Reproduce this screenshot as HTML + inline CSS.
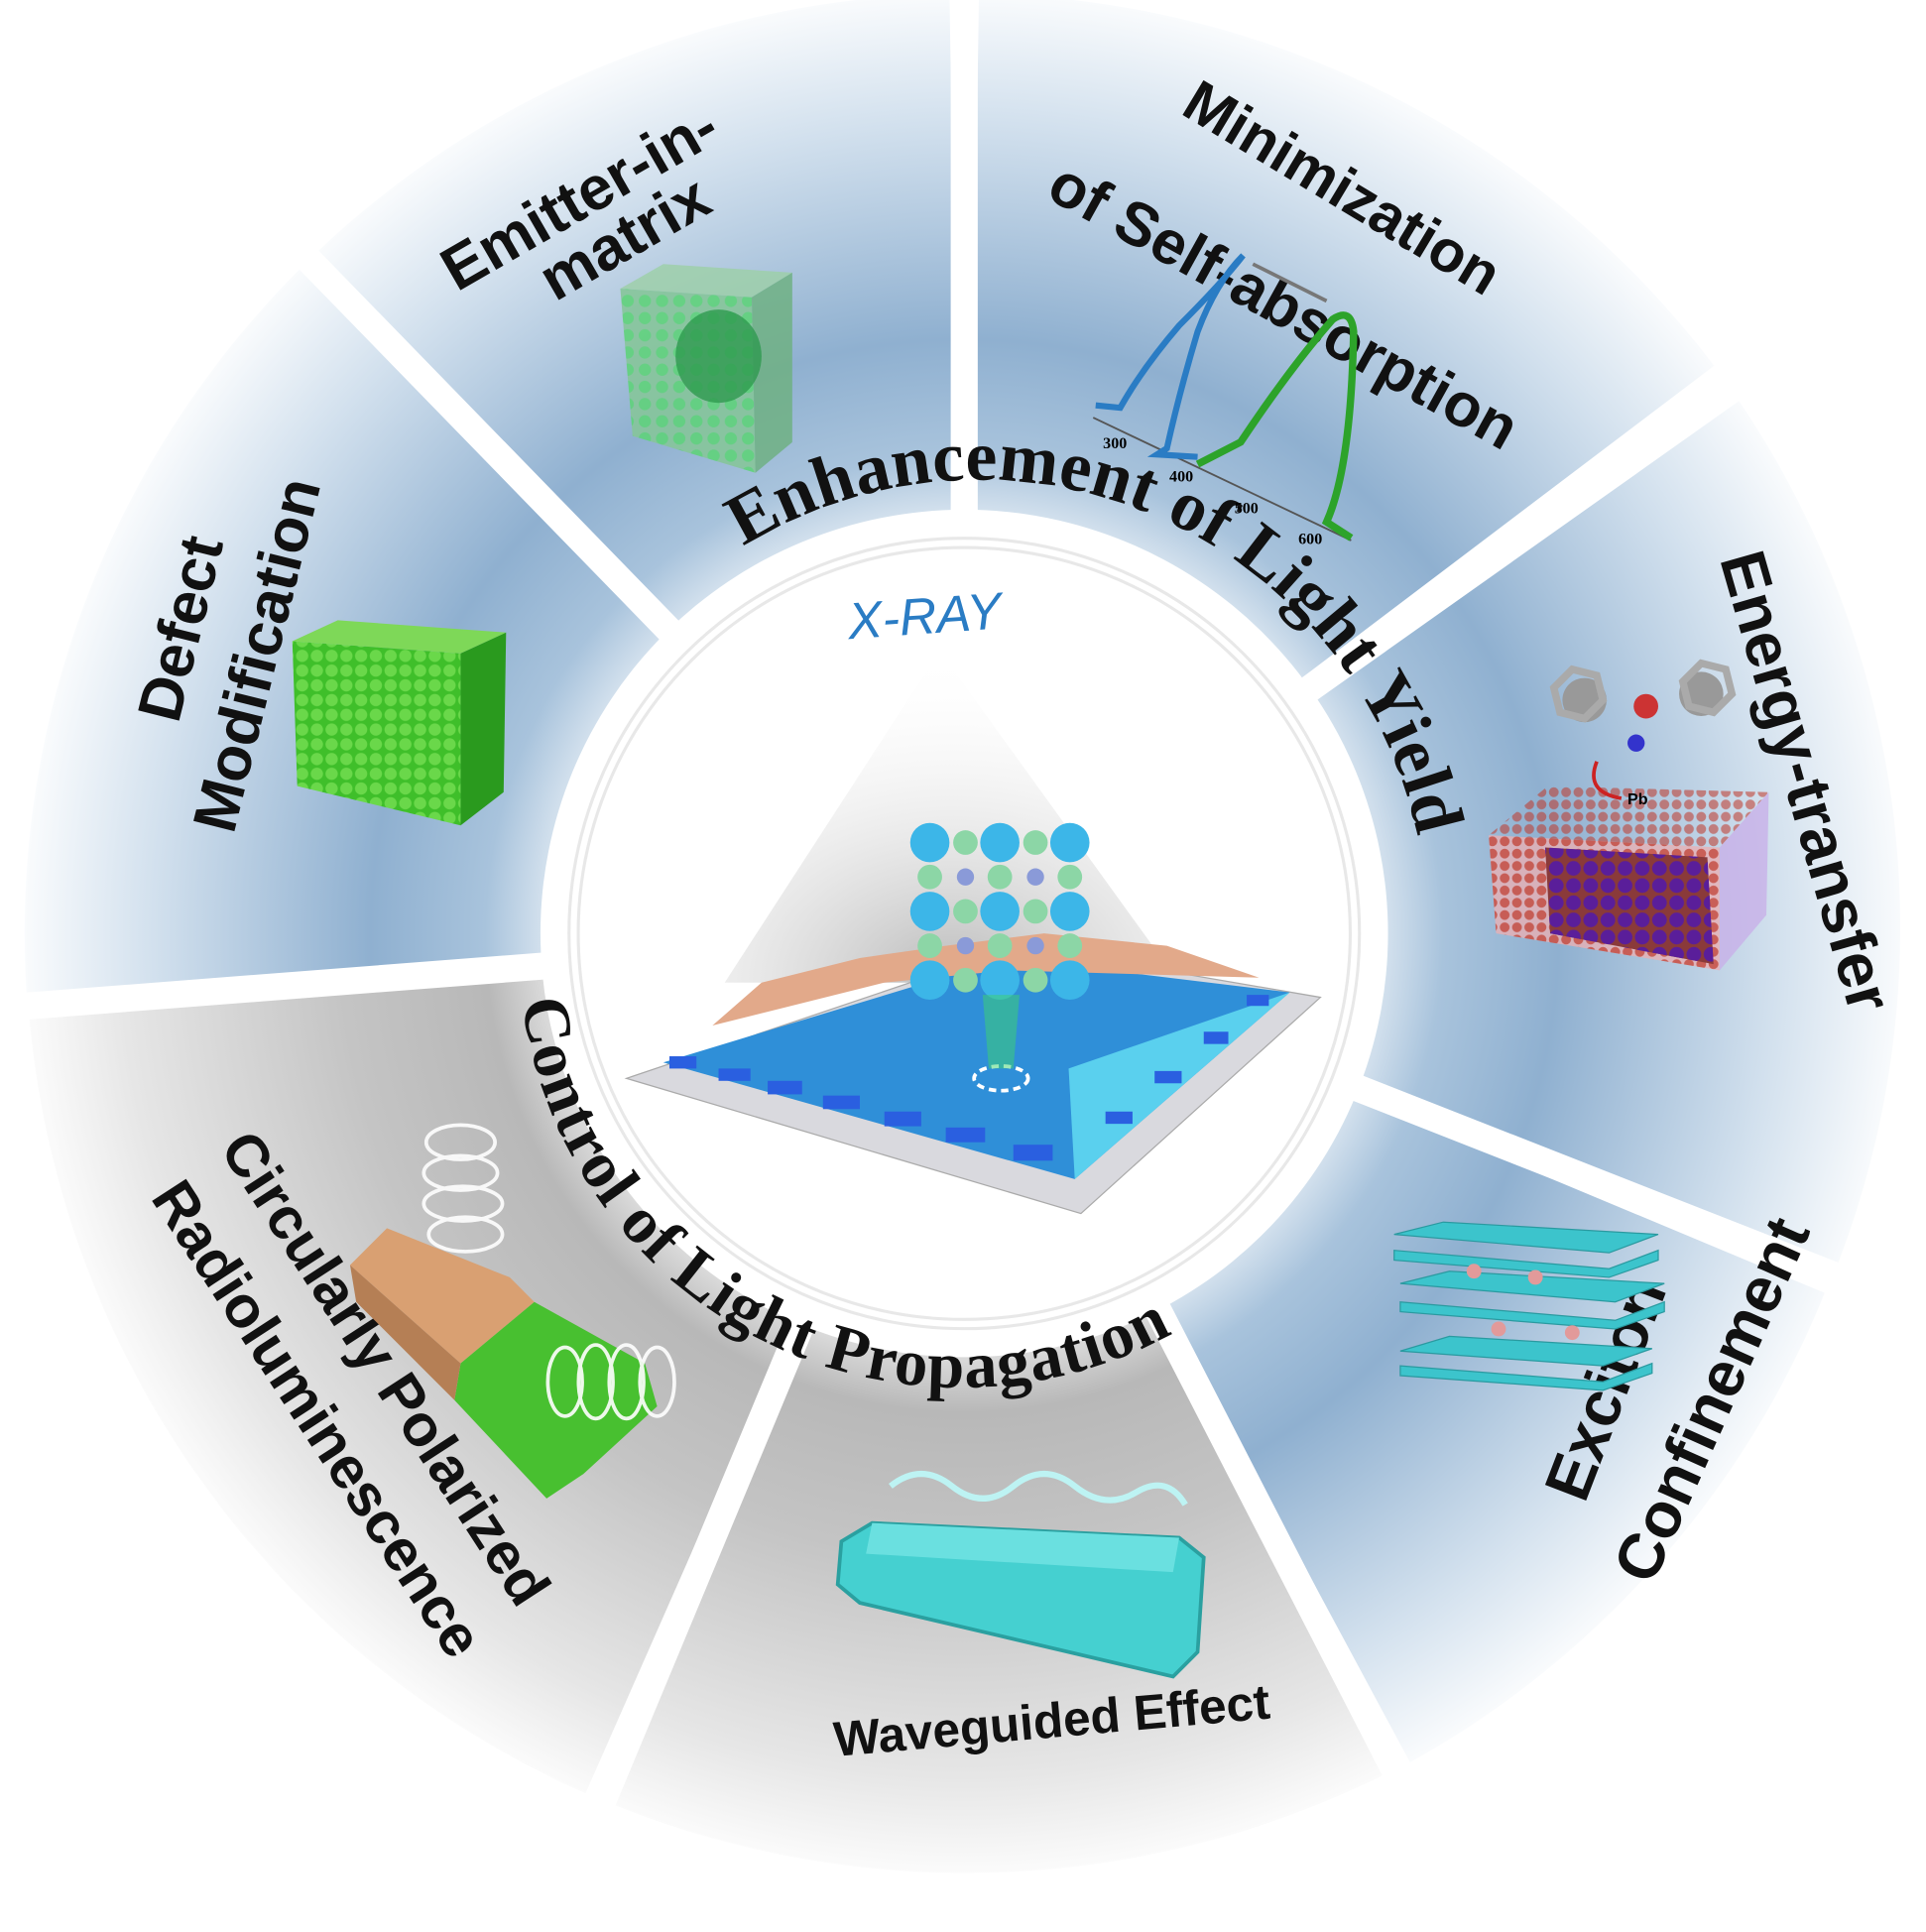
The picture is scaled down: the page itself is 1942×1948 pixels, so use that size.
<!DOCTYPE html>
<html><head><meta charset="utf-8"><style>
html,body{margin:0;padding:0;background:#fff}
svg{display:block}
.lab{font-family:"Liberation Sans",sans-serif;font-weight:bold;fill:#111}
.ser{font-family:"Liberation Serif",serif;font-weight:bold;fill:#111}
</style></head><body>
<svg width="1942" height="1948" viewBox="0 0 1568 1573" preserveAspectRatio="none" xmlns="http://www.w3.org/2000/svg">
<defs>
<radialGradient id="gb" cx="785" cy="760" r="780" gradientUnits="userSpaceOnUse">
<stop offset="0.38" stop-color="#ffffff"/><stop offset="0.5" stop-color="#a8c3dc"/><stop offset="0.62" stop-color="#8fb0d0"/><stop offset="0.85" stop-color="#d3e1ee"/><stop offset="1" stop-color="#ffffff"/></radialGradient>
<radialGradient id="gg" cx="785" cy="760" r="780" gradientUnits="userSpaceOnUse">
<stop offset="0.38" stop-color="#ffffff"/><stop offset="0.5" stop-color="#b8b8b8"/><stop offset="0.65" stop-color="#c4c4c4"/><stop offset="0.88" stop-color="#e6e6e6"/><stop offset="1" stop-color="#ffffff"/></radialGradient>
<radialGradient id="cone" cx="0.5" cy="1" r="1"><stop offset="0" stop-color="#9a9a9a"/><stop offset="1" stop-color="#ffffff" stop-opacity="0"/></radialGradient>
<path id="arcTop" d="M 605 445 A 365 365 0 0 1 1160 720"/>
<path id="arcBot" d="M 425 815 A 360 360 0 0 0 995 1060"/>
<pattern id="dots" width="10" height="10" patternUnits="userSpaceOnUse"><circle cx="5" cy="5" r="4" fill="#c0392b" opacity="0.7"/></pattern>
<pattern id="pdots" width="14" height="14" patternUnits="userSpaceOnUse"><circle cx="7" cy="7" r="6" fill="#5a1e9a"/></pattern>
<pattern id="gdots" width="12" height="12" patternUnits="userSpaceOnUse"><rect width="12" height="12" fill="#3fbf2a"/><circle cx="6" cy="6" r="5" fill="#6ad84a"/></pattern>
<pattern id="edots" width="14" height="14" patternUnits="userSpaceOnUse"><rect width="14" height="14" fill="#86c59a"/><circle cx="7" cy="7" r="5" fill="#5fd27a"/></pattern>
</defs>
<rect width="1568" height="1573" fill="#fff"/>
<path fill="url(#gb)" d="M785 760 L23.0 826.5 A765 765 0 0 1 244.1 219.1 Z"/>
<path fill="url(#gb)" d="M785 760 L255.7 207.5 A765 765 0 0 1 773.0 -5.0 Z"/>
<path fill="url(#gb)" d="M785 760 L797.0 -5.0 A765 765 0 0 1 1395.5 297.8 Z"/>
<path fill="url(#gb)" d="M785 760 L1412.3 321.4 A765 765 0 0 1 1495.1 1031.9 Z"/>
<path fill="url(#gb)" d="M785 760 L1485.5 1052.7 A765 765 0 0 1 1148.0 1434.9 Z"/>
<path fill="url(#gg)" d="M785 760 L1127.3 1444.6 A765 765 0 0 1 498.6 1468.9 Z"/>
<path fill="url(#gg)" d="M785 760 L476.7 1460.1 A765 765 0 0 1 22.3 807.9 Z"/>
<g stroke="#fff" stroke-width="22" stroke-linecap="round">
<line x1="785" y1="760" x2="10" y2="820"/>
<line x1="785" y1="760" x2="245" y2="205"/>
<line x1="785" y1="760" x2="785" y2="0"/>
<line x1="785" y1="760" x2="1420" y2="310"/>
<line x1="785" y1="760" x2="1510" y2="1045"/>
<line x1="785" y1="760" x2="1140" y2="1450"/>
<line x1="785" y1="760" x2="485" y2="1480"/>
</g>
<circle cx="785" cy="760" r="345" fill="#fff"/>
<circle cx="785" cy="760" r="318" fill="none" stroke="#d8d8d8" stroke-width="10" opacity="0.6"/>
<circle cx="785" cy="760" r="318" fill="none" stroke="#fff" stroke-width="5"/>
<text class="ser" font-size="58"><textPath href="#arcTop" textLength="700" lengthAdjust="spacing">Enhancement of Light Yield</textPath></text>
<text class="ser" font-size="54"><textPath href="#arcBot" textLength="700" lengthAdjust="spacing">Control of Light Propagation</textPath></text>
<text x="690" y="515" font-family="Liberation Sans,sans-serif" font-size="42" fill="#2a7cc4" font-style="italic" transform="rotate(-4 765 500)">X-RAY</text>
<polygon points="765,530 590,800 960,800" fill="url(#cone)" opacity="0.7"/>
<polygon points="510,878 830,770 1075,812 880,988" fill="#d9d9de" stroke="#aaa"/>
<polygon points="540,865 820,780 1050,808 875,960" fill="#2f8fd8"/>
<polygon points="580,835 620,800 700,780 770,770 850,760 950,770 1025,796 820,790 720,800" fill="#e2a98a"/>
<polygon points="870,870 1050,808 875,960" fill="#5ad0ee"/>
<ellipse cx="815" cy="878" rx="22" ry="10" fill="none" stroke="#fff" stroke-dasharray="6 4" stroke-width="3"/>
<g fill="#2a5fe0">
<rect x="545" y="860" width="22" height="10"/><rect x="585" y="870" width="26" height="10"/><rect x="625" y="880" width="28" height="11"/><rect x="670" y="892" width="30" height="11"/><rect x="720" y="905" width="30" height="12"/><rect x="770" y="918" width="32" height="12"/><rect x="825" y="932" width="32" height="13"/>
<rect x="900" y="905" width="22" height="10"/><rect x="940" y="872" width="22" height="10"/><rect x="980" y="840" width="20" height="10"/><rect x="1015" y="810" width="18" height="9"/>
</g>
<g>
<g fill="#3cb6e8"><circle cx="757" cy="686" r="16"/><circle cx="814" cy="686" r="16"/><circle cx="871" cy="686" r="16"/>
<circle cx="757" cy="742" r="16"/><circle cx="814" cy="742" r="16"/><circle cx="871" cy="742" r="16"/>
<circle cx="757" cy="798" r="16"/><circle cx="814" cy="798" r="16"/><circle cx="871" cy="798" r="16"/></g>
<g fill="#8cd6a6"><circle cx="786" cy="686" r="10"/><circle cx="843" cy="686" r="10"/><circle cx="786" cy="742" r="10"/><circle cx="843" cy="742" r="10"/><circle cx="786" cy="798" r="10"/><circle cx="843" cy="798" r="10"/><circle cx="757" cy="714" r="10"/><circle cx="814" cy="714" r="10"/><circle cx="871" cy="714" r="10"/><circle cx="757" cy="770" r="10"/><circle cx="814" cy="770" r="10"/><circle cx="871" cy="770" r="10"/></g>
<g fill="#8a9ad8"><circle cx="786" cy="714" r="7"/><circle cx="843" cy="714" r="7"/><circle cx="786" cy="770" r="7"/><circle cx="843" cy="770" r="7"/></g>
</g>
<polygon points="800,810 830,810 825,870 805,870" fill="#3ed36e" opacity="0.5"/>

<g class="lab">
<text font-size="50" transform="translate(372,238) rotate(-30)">Emitter-in-</text>
<text font-size="50" transform="translate(452,246) rotate(-30)">matrix</text>
<text font-size="48" transform="translate(960,92) rotate(31)">Minimization</text>
<text font-size="50" transform="translate(850,160) rotate(29)">of  Self-absorption</text>
<text font-size="52" transform="translate(1400,455) rotate(74)">Energy-transfer</text>
<text font-size="52" transform="translate(1290,1225) rotate(-69)">Exciton</text>
<text font-size="52" transform="translate(1345,1292) rotate(-66)">Confinement</text>
<text font-size="40" transform="translate(680,1430) rotate(-5)">Waveguided Effect</text>
<text font-size="48" transform="translate(178,935) rotate(57)">Circularly Polarized</text>
<text font-size="48" transform="translate(122,975) rotate(57)">Radioluminescence</text>
<text font-size="50" transform="translate(145,590) rotate(-76)">Defect</text>
<text font-size="50" transform="translate(190,680) rotate(-76)">Modification</text>
</g>

<polygon points="238,522 275,505 412,515 375,532" fill="#7ed858"/>
<polygon points="238,522 375,532 375,672 242,640" fill="url(#gdots)"/>
<polygon points="375,532 412,515 410,645 375,672" fill="#2a9a1e"/>
<polygon points="505,235 540,215 645,222 612,242" fill="#9ccfa6" opacity="0.8"/>
<polygon points="505,235 612,242 615,385 515,355" fill="url(#edots)" opacity="0.9"/>
<polygon points="612,242 645,222 645,360 615,385" fill="#6fb082" opacity="0.85"/>
<ellipse cx="585" cy="290" rx="35" ry="38" fill="#2e9a4f" opacity="0.8"/>
<line x1="890" y1="340" x2="1100" y2="440" stroke="#555" stroke-width="1.5"/>
<path d="M892 330 L912 332 Q930 300 960 265 Q995 230 1012 208 Q990 230 975 270 Q960 320 950 365 L942 370 L975 372" fill="none" stroke="#2a7cc4" stroke-width="5"/>
<path d="M975 378 L1010 360 Q1050 300 1085 260 Q1100 250 1102 270 Q1100 380 1080 425 L1100 438" fill="none" stroke="#2da32a" stroke-width="6"/>
<line x1="1020" y1="215" x2="1080" y2="245" stroke="#777" stroke-width="3"/>
<g font-family="Liberation Serif,serif" font-size="13" font-weight="bold"><text x="898" y="365">300</text><text x="952" y="392">400</text><text x="1005" y="418">500</text><text x="1057" y="443">600</text></g>
<polygon points="1212,680 1260,640 1440,645 1400,690" fill="url(#dots)" opacity="0.8"/>
<polygon points="1212,680 1400,690 1400,790 1218,760" fill="#e8b0b4" opacity="0.8"/>
<polygon points="1212,680 1400,690 1400,790 1218,760" fill="url(#dots)"/>
<polygon points="1400,690 1440,645 1438,745 1400,790" fill="#c8b0e8" opacity="0.8"/>
<polygon points="1258,690 1390,698 1395,785 1262,760" fill="#8a3a3a"/>
<polygon points="1258,690 1390,698 1395,785 1262,760" fill="url(#pdots)"/>
<g><circle cx="1290" cy="570" r="18" fill="#999"/><circle cx="1385" cy="565" r="18" fill="#999"/><circle cx="1340" cy="575" r="10" fill="#c33"/><circle cx="1332" cy="605" r="7" fill="#33c"/></g>
<g fill="none" stroke="#aaa" stroke-width="6"><polygon points="1265,560 1280,545 1300,550 1305,570 1290,585 1270,580"/><polygon points="1370,555 1385,540 1405,545 1410,565 1395,580 1375,575"/></g>
<text x="1325" y="655" font-family="Liberation Sans,sans-serif" font-size="13" font-weight="bold">Pb</text>
<path d="M1300 620 Q1290 645 1320 650" fill="none" stroke="#c22" stroke-width="3"/>
<g fill="#3cc4cc" stroke="#2a9aa0">
<polygon points="1135,1005 1175,995 1350,1005 1310,1020"/><polygon points="1135,1018 1310,1033 1350,1018 1350,1026 1310,1040 1135,1026"/>
<polygon points="1140,1045 1180,1035 1355,1045 1315,1060"/><polygon points="1140,1060 1315,1075 1355,1060 1355,1068 1315,1082 1140,1068"/>
<polygon points="1140,1100 1180,1088 1345,1098 1305,1112"/><polygon points="1140,1112 1305,1125 1345,1110 1345,1118 1305,1132 1140,1120"/>
</g>
<g fill="#e29a9a"><circle cx="1200" cy="1035" r="6"/><circle cx="1250" cy="1040" r="6"/><circle cx="1220" cy="1082" r="6"/><circle cx="1280" cy="1085" r="6"/></g>
<polygon points="685,1255 710,1240 960,1252 980,1268 975,1345 955,1365 700,1305 682,1290" fill="#45d0d0" stroke="#2aa0a0" stroke-width="3"/>
<polygon points="710,1240 960,1252 955,1280 705,1265" fill="#6ae0e0"/>
<path d="M725 1210 Q750 1190 775 1210 T825 1210 T875 1210 T925 1215 T965 1225" fill="none" stroke="#bdf3f3" stroke-width="5"/>
<g transform="translate(15,0)">
<polygon points="270,1030 300,1000 400,1040 420,1060 360,1110" fill="#d9a072"/>
<polygon points="360,1110 420,1060 510,1110 520,1145 460,1200 430,1220 355,1140" fill="#48c030"/>
<polygon points="270,1030 360,1110 355,1140 275,1060" fill="#b57f55"/>
<g fill="none" stroke="#fff" stroke-width="3" opacity="0.9">
<ellipse cx="360" cy="930" rx="28" ry="14"/><ellipse cx="360" cy="955" rx="30" ry="14"/><ellipse cx="362" cy="980" rx="32" ry="14"/><ellipse cx="364" cy="1005" rx="30" ry="14"/>
<ellipse cx="445" cy="1125" rx="14" ry="28"/><ellipse cx="470" cy="1125" rx="14" ry="30"/><ellipse cx="495" cy="1125" rx="14" ry="30"/><ellipse cx="520" cy="1125" rx="14" ry="28"/>
</g>
</g>
</svg>
</body></html>
